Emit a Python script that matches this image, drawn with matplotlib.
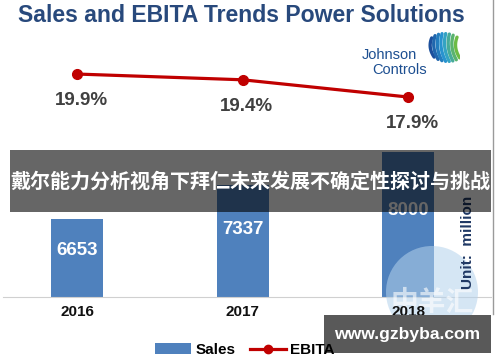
import numpy as np
import matplotlib
matplotlib.use('Agg')
import matplotlib.pyplot as plt
from matplotlib.patches import Rectangle, Ellipse
from matplotlib.lines import Line2D
from matplotlib.colors import LinearSegmentedColormap

# data
years = ['2016', '2017', '2018']
sales = [6653, 7337, 8000]
ebita = [19.9, 19.4, 17.9]
ebita_labels = ['19.9%', '19.4%', '17.9%']

plt.rcParams['font.family'] = ['Liberation Sans', 'DejaVu Sans']

W, H = 500, 362
fig = plt.figure(figsize=(5, 3.62), dpi=100)


def fx(px):
    return px / W


def fy(py):
    return 1 - py / H


# bars
ax = fig.add_axes([fx(3), fy(297), fx(488), (297 - 30) / H])
x = np.arange(len(years))
ax.bar(x, sales, width=0.314, color='#4f81bd', zorder=2)
ax.set_xlim(-0.447, 2.50)
ax.set_ylim(5080, 10458)
for s in ['top', 'left', 'right']:
    ax.spines[s].set_visible(False)
ax.spines['bottom'].set_color('#d0d0d0')
ax.set_yticks([])
ax.set_xticks(x)
ax.set_xticklabels(years, fontsize=11, fontweight='bold', color='#111111')
ax.tick_params(axis='x', length=0, pad=6)
ax.xaxis.set_zorder(5)
# value labels sit at about 60% of the bar height
base = ax.get_ylim()[0]
for i, v in enumerate(sales):
    ax.text(i, base + 0.6 * (v - base), str(v), ha='center', va='center',
            color='white', fontsize=13.5, fontweight='bold', zorder=3)
ax.set_zorder(2.5)
ax.patch.set_visible(False)

# watermark circle: over the bars, under the year labels
ax.add_patch(Ellipse((fx(432), fy(292)), 92 / W, 92 / H, transform=fig.transFigure,
                     facecolor='#b4d2ec', alpha=0.55, edgecolor='none', zorder=3.2,
                     clip_on=False))
ax.text(fx(432), fy(303), '中羊汇', transform=fig.transFigure, ha='center', va='center',
        fontsize=20, fontweight='bold', color='white', alpha=0.6,
        family=['Noto Sans CJK SC'], zorder=3.4)

# EBITA line
ax2 = ax.twinx()
ax2.set_zorder(2.6)
ax2.set_ylim(0.51, 23.73)
ax2.plot(x, ebita, color='#c00000', lw=2.3, marker='o', ms=7, zorder=4)
ax2.axis('off')
for i, v in enumerate(ebita):
    ax2.annotate(ebita_labels[i], (i, v), xytext=(3, -19), textcoords='offset points',
                 ha='center', va='center', color='#404040', fontsize=13.5,
                 fontweight='bold')

# title
fig.text(fx(241.5), fy(15), 'Sales and EBITA Trends Power Solutions', ha='center',
         va='center', fontsize=16.6, fontweight='bold', color='#28497c')

# Johnson Controls logo
fig.text(fx(389), fy(55), 'Johnson', ha='center', va='center', fontsize=10.5,
         color='#1d4f91')
fig.text(fx(400), fy(70), 'Controls', ha='center', va='center', fontsize=10.5,
         color='#1d4f91')
lax = fig.add_axes([fx(427), fy(63), fx(33), 31 / H])
lax.set_xlim(0, 1)
lax.set_ylim(0, 1)
lax.axis('off')
cmap = LinearSegmentedColormap.from_list('jc', ['#1c4f9c', '#2a9fd8', '#6dbb45'])
t = np.linspace(-1, 1, 30)
for k in range(8):
    c = 0.1 + k * 0.11
    half = np.sqrt(max(0.02, 1 - ((c - 0.5) / 0.55) ** 2)) * 0.45
    xs = c + 0.08 * t * t - 0.12 * t * half
    ys = 0.5 + t * half
    lax.plot(xs, ys, color=cmap(k / 7), lw=2.4, solid_capstyle='round')

# unit text
fig.text(fx(468), fy(242), 'Unit:  million', rotation=90, ha='center', va='center',
         fontsize=11, fontweight='bold', color='#1f3864', zorder=4)

# right border
fig.add_artist(Line2D([fx(493), fx(493)], [fy(0), fy(314)], color='#9a9a9a', lw=1,
                      transform=fig.transFigure, zorder=2))

# banner
fig.add_artist(Rectangle((fx(10), fy(212)), fx(481), 62 / H, transform=fig.transFigure,
                         facecolor='black', alpha=0.6, edgecolor='none', zorder=5))
fig.text(fx(250.5), fy(181), '戴尔能力分析视角下拜仁未来发展不确定性探讨与挑战',
         ha='center', va='center', fontsize=14.45, fontweight='bold', color='white',
         family=['Noto Sans CJK SC', 'DejaVu Sans'], zorder=6)

# site box
fig.add_artist(Rectangle((fx(324), fy(353)), fx(167), 38 / H, transform=fig.transFigure,
                         facecolor='#595959', edgecolor='none', zorder=7))
fig.text(fx(407), fy(334), 'www.gzbyba.com', ha='center', va='center', fontsize=12.6,
         fontweight='bold', color='white', zorder=8)

# legend
handles = [Rectangle((0, 0), 1, 1, facecolor='#4f81bd'),
           Line2D([], [], color='#c00000', lw=2.3, marker='o', ms=6)]
leg = fig.legend(handles, ['Sales', 'EBITA'], loc='center',
                 bbox_to_anchor=(fx(245), fy(350)), ncol=2, frameon=False,
                 prop={'size': 11, 'weight': 'bold'}, handlelength=2.3,
                 handletextpad=0.3, columnspacing=1.0, numpoints=1)
leg.set_zorder(9)

fig.savefig('out.png', dpi=100)
